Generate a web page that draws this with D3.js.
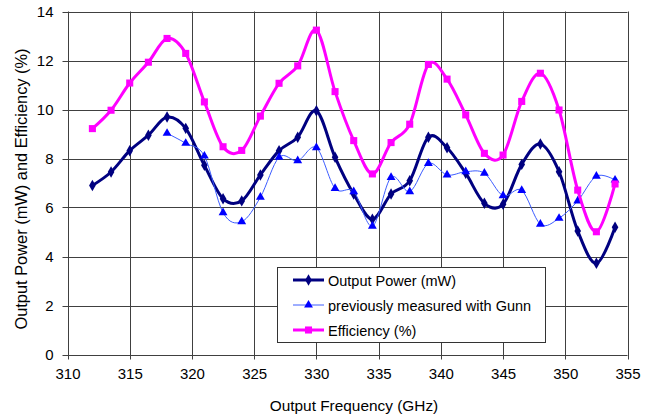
<!DOCTYPE html>
<html>
<head>
<meta charset="utf-8">
<script src="https://cdn.jsdelivr.net/npm/d3@7"></script>
<style>
  html, body { margin: 0; padding: 0; background: #fff; }
  svg { display: block; font-family: "Liberation Sans", Arial, sans-serif; }
</style>
</head>
<body>
<svg id="chart" width="656" height="419"></svg>
<script>
// Frequency points (GHz)
const frequency = [312, 313.5, 315, 316.5, 318, 319.5, 321, 322.5, 324, 325.5, 327, 328.5, 330, 331.5, 333, 334.5, 336, 337.5, 339, 340.5, 342, 343.5, 345, 346.5, 348, 349.5, 351, 352.5, 354];

// Output power (mW)
const outputPower = [6.9, 7.45, 8.32, 8.95, 9.69, 9.23, 7.72, 6.36, 6.27, 7.33, 8.32, 8.87, 9.95, 8.05, 6.55, 5.52, 6.55, 7.09, 8.87, 8.44, 7.4, 6.17, 6.13, 7.76, 8.59, 7.46, 5.04, 3.72, 5.19];

// Earlier measurement with the Gunn source (starts at 318 GHz)
const gunnFrequency = [318, 319.5, 321, 322.5, 324, 325.5, 327, 328.5, 330, 331.5, 333, 334.5, 336, 337.5, 339, 340.5, 342, 343.5, 345, 346.5, 348, 349.5, 351, 352.5, 354];
const gunnPower = [9.03, 8.62, 8.1, 5.79, 5.42, 6.42, 8.05, 7.91, 8.44, 6.78, 6.65, 5.24, 7.23, 6.65, 7.8, 7.33, 7.46, 7.4, 6.48, 6.7, 5.32, 5.56, 6.27, 7.28, 7.12];

// Efficiency (%)
const efficiency = [9.22, 9.97, 11.08, 11.93, 12.9, 12.29, 10.31, 8.48, 8.33, 9.73, 11.07, 11.78, 13.24, 10.73, 8.73, 7.37, 8.65, 9.4, 11.84, 11.24, 9.78, 8.21, 8.14, 10.33, 11.48, 9.98, 6.71, 5.01, 6.96];

const xTicks = [310, 315, 320, 325, 330, 335, 340, 345, 350, 355];
const yTicks = [0, 2, 4, 6, 8, 10, 12, 14];

const legendLabels = ["Output Power (mW)", "previously measured with Gunn", "Efficiency (%)"];

const svg = d3.select("#chart");
const plot = { left: 67.5, right: 627.5, top: 11.5, bottom: 354.5 };

const x = d3.scaleLinear().domain([310, 355]).range([plot.left, plot.right]);
const y = d3.scaleLinear().domain([0, 14]).range([plot.bottom, plot.top]);

const gridColor = "#404040";

// Grid
const grid = svg.append("g");
grid.selectAll("line.v").data(xTicks).join("line")
  .attr("x1", d => Math.round(x(d)) + 0.5).attr("x2", d => Math.round(x(d)) + 0.5)
  .attr("y1", plot.top).attr("y2", plot.bottom + 5)
  .attr("stroke", gridColor).attr("stroke-width", 1);
grid.selectAll("line.h").data(yTicks).join("line")
  .attr("x1", plot.left - 5).attr("x2", plot.right)
  .attr("y1", d => Math.round(y(d)) + 0.5).attr("y2", d => Math.round(y(d)) + 0.5)
  .attr("stroke", gridColor).attr("stroke-width", 1);

// Axes (labels only; lines come from the grid)
const xAxis = svg.append("g")
  .attr("transform", `translate(0,${plot.bottom})`)
  .call(d3.axisBottom(x).tickValues(xTicks).tickSize(0).tickPadding(14));
const yAxis = svg.append("g")
  .attr("transform", `translate(${plot.left},0)`)
  .call(d3.axisLeft(y).tickValues(yTicks).tickSize(0).tickPadding(14));
[xAxis, yAxis].forEach(a => {
  a.select(".domain").remove();
  a.selectAll("text").attr("font-size", 15).attr("fill", "#000")
    .attr("font-family", "'Liberation Sans', Arial, sans-serif");
});

// Axis titles
svg.append("text")
  .attr("x", 354).attr("y", 411)
  .attr("text-anchor", "middle").attr("font-size", 15.4)
  .text("Output Frequency (GHz)");
svg.append("text")
  .attr("transform", "translate(27,189) rotate(-90)")
  .attr("text-anchor", "middle").attr("font-size", 16.4)
  .text("Output Power (mW) and Efficiency (%)");

// Series definitions
const curve = d3.curveCardinal.tension(0);
const series = [
  { xs: frequency, ys: outputPower, color: "#000080", width: 3, marker: d3.symbolDiamond, size: 38 },
  { xs: gunnFrequency, ys: gunnPower, color: "#0000ff", width: 1, marker: d3.symbolTriangle, size: 34, lineColor: "#3c5cff" },
  { xs: frequency, ys: efficiency, color: "#ff00ff", width: 3, marker: d3.symbolSquare, size: 50 }
];

const linesG = svg.append("g");
series.forEach(s => {
  const pts = s.xs.map((f, i) => [f, s.ys[i]]);
  linesG.append("path")
    .datum(pts)
    .attr("fill", "none")
    .attr("stroke", s.lineColor || s.color)
    .attr("stroke-width", s.width)
    .attr("stroke-linejoin", "round")
    .attr("d", d3.line().x(d => x(d[0])).y(d => y(d[1])).curve(curve));
  linesG.append("g").selectAll("path").data(pts).join("path")
    .attr("transform", d => `translate(${x(d[0])},${y(d[1])})`)
    .attr("d", d3.symbol().type(s.marker).size(s.size))
    .attr("fill", s.color);
});

// Legend
const lg = svg.append("g");
lg.append("rect")
  .attr("x", 277.5).attr("y", 267.5).attr("width", 268).attr("height", 75)
  .attr("fill", "#fff").attr("stroke", "#333").attr("stroke-width", 1);
const rowY = [280, 305, 330];
series.forEach((s, i) => {
  const yy = rowY[i];
  lg.append("line")
    .attr("x1", 293).attr("x2", 324).attr("y1", yy).attr("y2", yy)
    .attr("stroke", s.lineColor || s.color).attr("stroke-width", s.width);
  lg.append("path")
    .attr("transform", `translate(308.5,${yy})`)
    .attr("d", d3.symbol().type(s.marker).size(s.size))
    .attr("fill", s.color);
  lg.append("text")
    .attr("x", 328).attr("y", yy + 5.5)
    .attr("font-size", 14.5).attr("fill", "#000")
    .text(legendLabels[i]);
});
</script>
</body>
</html>
